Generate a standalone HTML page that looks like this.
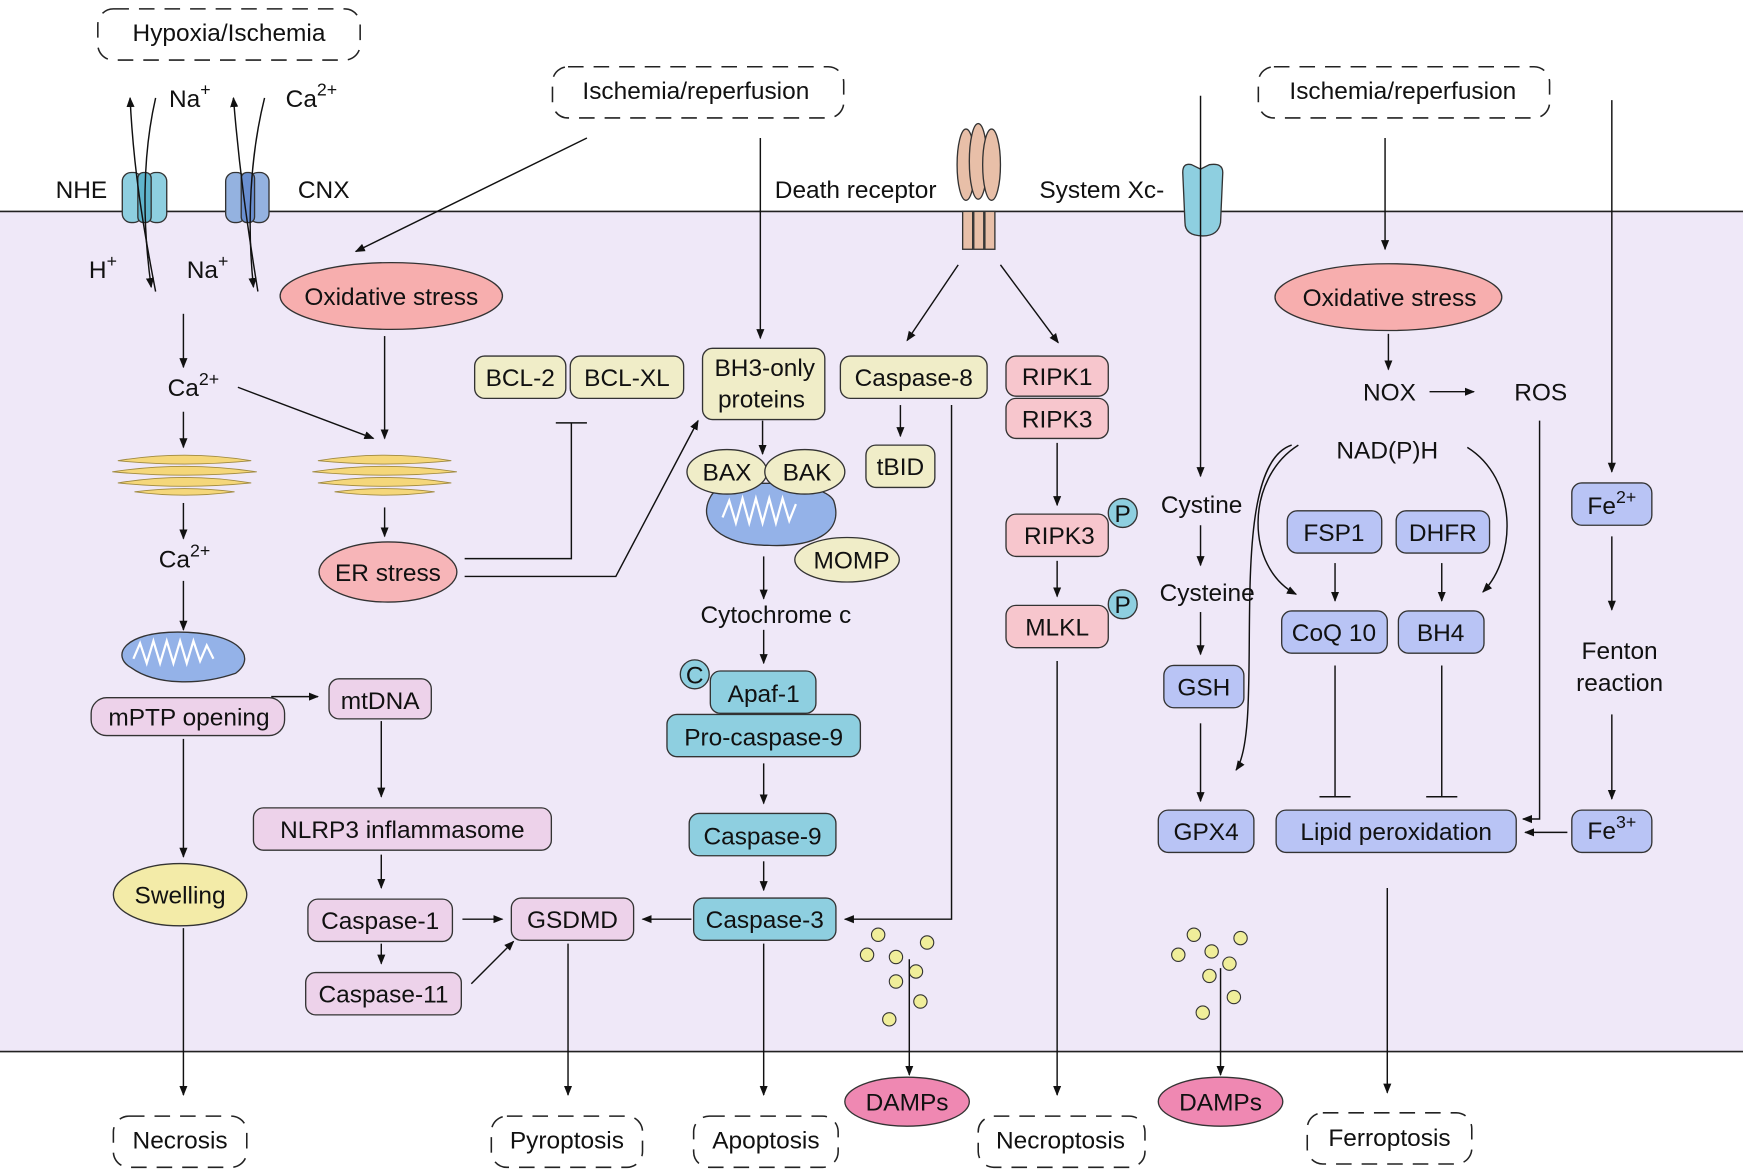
<!DOCTYPE html>
<html><head><meta charset="utf-8"><style>
html,body{margin:0;padding:0;background:#fff}
svg{display:block}
text{font-family:"Liberation Sans",Arial,sans-serif;font-size:22px;fill:#111}
</style></head><body>
<svg width="1743" height="1174" viewBox="0 0 1568 1055" preserveAspectRatio="none" xmlns="http://www.w3.org/2000/svg">
<defs>
<marker id="a" viewBox="0 0 10 10" refX="9" refY="5" markerWidth="7" markerHeight="7" orient="auto"><path d="M0,1 L10,5 L0,9 z" fill="#111"/></marker>
</defs>
<rect x="0" y="190" width="1568" height="755" fill="#efe8f8"/>
<line x1="0" y1="190" x2="1568" y2="190" stroke="#222" stroke-width="1.5"/>
<line x1="0" y1="945" x2="1568" y2="945" stroke="#222" stroke-width="1.5"/>

<g fill="none" stroke="#222" stroke-width="1.4" stroke-dasharray="14,9">
<rect x="88" y="8" width="236" height="46" rx="14"/>
<rect x="497" y="60" width="262" height="46" rx="14"/>
<rect x="1132" y="60" width="262" height="46" rx="14"/>
<rect x="102" y="1003" width="120" height="46" rx="14"/>
<rect x="442" y="1003" width="136" height="46" rx="14"/>
<rect x="624" y="1003" width="130" height="46" rx="14"/>
<rect x="880" y="1003" width="150" height="46" rx="14"/>
<rect x="1176" y="1000" width="148" height="46" rx="14"/>
</g>
<g text-anchor="middle">
<text x="206" y="37">Hypoxia/Ischemia</text>
<text x="626" y="89">Ischemia/reperfusion</text>
<text x="1262" y="89">Ischemia/reperfusion</text>
<text x="162" y="1032">Necrosis</text>
<text x="510" y="1032">Pyroptosis</text>
<text x="689" y="1032">Apoptosis</text>
<text x="954" y="1032">Necroptosis</text>
<text x="1250" y="1030">Ferroptosis</text>
</g>

<!-- channels -->
<g stroke="#333" stroke-width="1.2">
<rect x="110" y="155" width="18" height="45" rx="8" fill="#8ecfe0"/>
<rect x="132" y="155" width="18" height="45" rx="8" fill="#8ecfe0"/>
<rect x="124" y="155" width="12" height="45" rx="5" fill="#5fb5cc"/>
<rect x="203" y="155" width="18" height="45" rx="8" fill="#94b2e0"/>
<rect x="224" y="155" width="18" height="45" rx="8" fill="#94b2e0"/>
<rect x="217" y="155" width="12" height="45" rx="5" fill="#6a8fd0"/>
<path d="M1064,155 Q1064,146 1072,148 L1080,152 L1088,148 Q1100,146 1100,155 L1098,200 Q1096,212 1082,212 Q1066,212 1066,200 Z" fill="#8ecfe0"/>
<rect x="866" y="190" width="9" height="34" fill="#e8bfa8"/><rect x="876" y="190" width="9" height="34" fill="#e8bfa8"/><rect x="886" y="190" width="9" height="34" fill="#e8bfa8"/>
<ellipse cx="869" cy="148" rx="8" ry="32" fill="#e8bfa8"/><ellipse cx="880" cy="145" rx="8" ry="34" fill="#e8bfa8"/><ellipse cx="892" cy="148" rx="8" ry="32" fill="#e8bfa8"/>
</g>
<g fill="none" stroke="#111" stroke-width="1.3">
<path d="M140,262 C128,200 120,150 117,88" marker-end="url(#a)"/>
<path d="M140,88 C128,140 128,200 136,258" marker-end="url(#a)"/>
<path d="M232,262 C222,200 215,150 210,88" marker-end="url(#a)"/>
<path d="M238,88 C225,140 222,200 228,258" marker-end="url(#a)"/>
</g>
<text x="152" y="96">Na<tspan font-size="16" dy="-10">+</tspan></text>
<text x="257" y="96">Ca<tspan font-size="16" dy="-10">2+</tspan></text>
<text x="50" y="178">NHE</text><text x="268" y="178">CNX</text>
<text x="80" y="250">H<tspan font-size="16" dy="-10">+</tspan></text>
<text x="168" y="250">Na<tspan font-size="16" dy="-10">+</tspan></text>
<text x="697" y="178">Death receptor</text>
<text x="935" y="178">System Xc-</text>

<!-- nodes -->
<g stroke="#333" stroke-width="1.2">
<ellipse cx="352" cy="266" rx="100" ry="30" fill="#f7aeae"/>
<ellipse cx="1249" cy="267" rx="102" ry="30" fill="#f7aeae"/>
<ellipse cx="349" cy="514" rx="62" ry="27" fill="#f7b5b8"/>
<ellipse cx="162" cy="804" rx="60" ry="28" fill="#f3eba8"/>
<ellipse cx="816" cy="990" rx="56" ry="22" fill="#ef88b2"/>
<ellipse cx="1098" cy="990" rx="56" ry="22" fill="#ef88b2"/>
<path d="M640,445 C625,470 650,490 690,490 C730,492 760,480 750,450 C740,430 650,430 640,445z" fill="#94b2e8"/>
<g fill="#f0edc8">
<rect x="427" y="320" width="82" height="38" rx="9"/>
<rect x="513" y="320" width="102" height="38" rx="9"/>
<rect x="632" y="313" width="110" height="64" rx="9"/>
<rect x="756" y="320" width="132" height="38" rx="9"/>
<rect x="779" y="400" width="62" height="38" rx="9"/>
<ellipse cx="654" cy="424" rx="36" ry="20"/>
<ellipse cx="724" cy="424" rx="36" ry="20"/>
</g>
<path d="M118,600 C100,590 110,568 160,568 C215,568 232,590 212,605 C180,616 140,616 118,600z" fill="#94b2e8"/>
<ellipse cx="762" cy="503" rx="47" ry="20" fill="#f0edc8"/>
<g fill="#f7c6cd">
<rect x="905" y="320" width="92" height="36" rx="9"/>
<rect x="905" y="358" width="92" height="36" rx="9"/>
<rect x="905" y="462" width="92" height="38" rx="9"/>
<rect x="905" y="544" width="92" height="38" rx="9"/>
</g>
<g fill="#8ecfe0">
<circle cx="1010" cy="461" r="13"/><circle cx="1010" cy="543" r="13"/>
<circle cx="625" cy="606" r="13"/>
<rect x="639" y="603" width="95" height="38" rx="9"/>
<rect x="600" y="642" width="174" height="38" rx="9"/>
<rect x="620" y="731" width="132" height="38" rx="9"/>
<rect x="624" y="807" width="128" height="38" rx="9"/>
</g>
<g fill="#edd2ea">
<rect x="82" y="627" width="174" height="34" rx="14"/>
<rect x="296" y="610" width="92" height="36" rx="9"/>
<rect x="228" y="726" width="268" height="38" rx="9"/>
<rect x="277" y="808" width="130" height="38" rx="9"/>
<rect x="275" y="874" width="140" height="38" rx="9"/>
<rect x="460" y="807" width="110" height="38" rx="9"/>
</g>
<g fill="#b9c4f5">
<rect x="1158" y="459" width="85" height="38" rx="9"/>
<rect x="1256" y="459" width="84" height="38" rx="9"/>
<rect x="1153" y="549" width="95" height="38" rx="9"/>
<rect x="1258" y="549" width="77" height="38" rx="9"/>
<rect x="1047" y="598" width="72" height="38" rx="9"/>
<rect x="1042" y="728" width="86" height="38" rx="9"/>
<rect x="1148" y="728" width="216" height="38" rx="9"/>
<rect x="1414" y="434" width="72" height="38" rx="9"/>
<rect x="1414" y="728" width="72" height="38" rx="9"/>
</g>
</g>
<!-- cristae -->
<g fill="none" stroke="#fff" stroke-width="2">
<path d="M650,465 l6,-15 l6,20 l6,-22 l6,22 l6,-22 l6,22 l6,-22 l6,22 l6,-22 l6,20 l6,-15"/>
<path d="M120,592 l6,-14 l6,18 l6,-20 l6,20 l6,-20 l6,20 l6,-20 l6,20 l6,-20 l6,18 l6,-14 l6,12"/>
</g>
<!-- ER -->
<g fill="#f5d77a" stroke="#a08a40" stroke-width="0.8">
<g transform="translate(166,428)"><path d="M-60,-14 Q0,-24 60,-14 Q0,-8 -60,-14z"/><path d="M-65,-4 Q0,-14 65,-4 Q0,2 -65,-4z"/><path d="M-60,6 Q0,-4 60,6 Q0,12 -60,6z"/><path d="M-45,14 Q0,8 45,14 Q0,20 -45,14z"/></g>
<g transform="translate(346,428)"><path d="M-60,-14 Q0,-24 60,-14 Q0,-8 -60,-14z"/><path d="M-65,-4 Q0,-14 65,-4 Q0,2 -65,-4z"/><path d="M-60,6 Q0,-4 60,6 Q0,12 -60,6z"/><path d="M-45,14 Q0,8 45,14 Q0,20 -45,14z"/></g>
</g>
<g fill="#f0ee9a" stroke="#333" stroke-width="1">
<circle cx="780" cy="858" r="6"/><circle cx="806" cy="860" r="6"/><circle cx="834" cy="847" r="6"/><circle cx="790" cy="840" r="6"/><circle cx="824" cy="873" r="6"/><circle cx="806" cy="882" r="6"/><circle cx="828" cy="900" r="6"/><circle cx="800" cy="916" r="6"/>
<circle cx="1060" cy="858" r="6"/><circle cx="1074" cy="840" r="6"/><circle cx="1090" cy="855" r="6"/><circle cx="1116" cy="843" r="6"/><circle cx="1106" cy="866" r="6"/><circle cx="1088" cy="877" r="6"/><circle cx="1110" cy="896" r="6"/><circle cx="1082" cy="910" r="6"/>
</g>

<g text-anchor="middle">
<text x="352" y="274">Oxidative stress</text>
<text x="1250" y="275">Oxidative stress</text>
<text x="349" y="522">ER stress</text>
<text x="162" y="812">Swelling</text>
<text x="816" y="998">DAMPs</text><text x="1098" y="998">DAMPs</text>
<text x="468" y="347">BCL-2</text><text x="564" y="347">BCL-XL</text>
<text x="688" y="338">BH3-only</text><text x="685" y="366">proteins</text>
<text x="822" y="347">Caspase-8</text><text x="810" y="427">tBID</text>
<text x="654" y="432">BAX</text><text x="726" y="432">BAK</text>
<text x="766" y="511">MOMP</text>
<text x="951" y="346">RIPK1</text><text x="951" y="384">RIPK3</text>
<text x="953" y="489">RIPK3</text><text x="951" y="571">MLKL</text>
<text x="1010" y="469" font-size="20">P</text><text x="1010" y="551" font-size="20">P</text>
<text x="625" y="614" font-size="20">C</text>
<text x="698" y="560">Cytochrome c</text>
<text x="687" y="631">Apaf-1</text>
<text x="687" y="670">Pro-caspase-9</text>
<text x="686" y="759">Caspase-9</text>
<text x="688" y="834">Caspase-3</text>
<text x="170" y="652">mPTP opening</text>
<text x="342" y="637">mtDNA</text>
<text x="362" y="753">NLRP3 inflammasome</text>
<text x="342" y="835">Caspase-1</text>
<text x="345" y="901">Caspase-11</text>
<text x="515" y="834">GSDMD</text>
<text x="1200" y="486">FSP1</text><text x="1298" y="486">DHFR</text>
<text x="1200" y="576">CoQ 10</text><text x="1296" y="576">BH4</text>
<text x="1083" y="625">GSH</text><text x="1085" y="755">GPX4</text>
<text x="1256" y="755">Lipid peroxidation</text>
<text x="1081" y="461">Cystine</text><text x="1086" y="540">Cysteine</text>
<text x="1250" y="360">NOX</text><text x="1386" y="360">ROS</text>
<text x="1248" y="412">NAD(P)H</text>
<text x="1457" y="592">Fenton</text><text x="1457" y="621">reaction</text>
<text x="1450" y="462">Fe<tspan font-size="16" dy="-10">2+</tspan></text>
<text x="1450" y="754">Fe<tspan font-size="16" dy="-10">3+</tspan></text>
<text x="174" y="356">Ca<tspan font-size="16" dy="-10">2+</tspan></text>
<text x="166" y="510">Ca<tspan font-size="16" dy="-10">2+</tspan></text>
</g>

<g fill="none" stroke="#111" stroke-width="1.3" marker-end="url(#a)">
<line x1="528" y1="124" x2="320" y2="226"/>
<line x1="684" y1="124" x2="684" y2="304"/>
<line x1="1246" y1="124" x2="1246" y2="224"/>
<line x1="165" y1="282" x2="165" y2="330"/>
<line x1="214" y1="348" x2="336" y2="394"/>
<line x1="346" y1="302" x2="346" y2="394"/>
<line x1="165" y1="370" x2="165" y2="402"/>
<line x1="165" y1="452" x2="165" y2="484"/>
<line x1="165" y1="522" x2="165" y2="566"/>
<line x1="346" y1="456" x2="346" y2="482"/>
<polyline points="418,518 554,518 628,378"/>
<line x1="686" y1="378" x2="686" y2="408"/>
<line x1="862" y1="238" x2="816" y2="306"/>
<line x1="900" y1="238" x2="952" y2="308"/>
<line x1="810" y1="364" x2="810" y2="392"/>
<line x1="951" y1="398" x2="951" y2="454"/>
<line x1="951" y1="504" x2="951" y2="536"/>
<line x1="687" y1="500" x2="687" y2="538"/>
<line x1="687" y1="566" x2="687" y2="596"/>
<line x1="687" y1="686" x2="687" y2="722"/>
<line x1="687" y1="774" x2="687" y2="800"/>
<polyline points="856,364 856,826 760,826"/>
<line x1="622" y1="826" x2="578" y2="826"/>
<line x1="244" y1="626" x2="286" y2="626"/>
<line x1="343" y1="648" x2="343" y2="716"/>
<line x1="343" y1="768" x2="343" y2="798"/>
<line x1="416" y1="826" x2="452" y2="826"/>
<line x1="343" y1="848" x2="343" y2="866"/>
<line x1="424" y1="884" x2="462" y2="846"/>
<line x1="165" y1="664" x2="165" y2="770"/>
<line x1="165" y1="834" x2="165" y2="984"/>
<line x1="511" y1="848" x2="511" y2="984"/>
<line x1="687" y1="848" x2="687" y2="984"/>
<line x1="818" y1="862" x2="818" y2="966"/>
<line x1="1098" y1="870" x2="1098" y2="966"/>
<line x1="951" y1="594" x2="951" y2="984"/>
<line x1="1248" y1="798" x2="1248" y2="982"/>
<line x1="1080" y1="86" x2="1080" y2="428"/>
<line x1="1080" y1="472" x2="1080" y2="508"/>
<line x1="1080" y1="550" x2="1080" y2="588"/>
<line x1="1080" y1="650" x2="1080" y2="720"/>
<line x1="1249" y1="300" x2="1249" y2="332"/>
<line x1="1286" y1="352" x2="1326" y2="352"/>
<line x1="1201" y1="506" x2="1201" y2="540"/>
<line x1="1297" y1="506" x2="1297" y2="540"/>
<polyline points="1385,378 1385,736 1370,736"/>
<line x1="1450" y1="90" x2="1450" y2="424"/>
<line x1="1450" y1="482" x2="1450" y2="548"/>
<line x1="1450" y1="642" x2="1450" y2="718"/>
<line x1="1410" y1="748" x2="1372" y2="748"/>
<path d="M1168,400 C1120,430 1120,510 1166,534"/>
<path d="M1320,402 C1365,430 1365,500 1334,532"/>
<path d="M1162,400 C1100,420 1140,650 1112,692"/>
</g>
<g fill="none" stroke="#111" stroke-width="1.3">
<polyline points="418,502 514,502 514,380"/><line x1="500" y1="380" x2="528" y2="380"/>
<line x1="1201" y1="598" x2="1201" y2="716"/><line x1="1187" y1="716" x2="1215" y2="716"/>
<line x1="1297" y1="598" x2="1297" y2="716"/><line x1="1283" y1="716" x2="1311" y2="716"/>
</g>
</svg>
</body></html>
